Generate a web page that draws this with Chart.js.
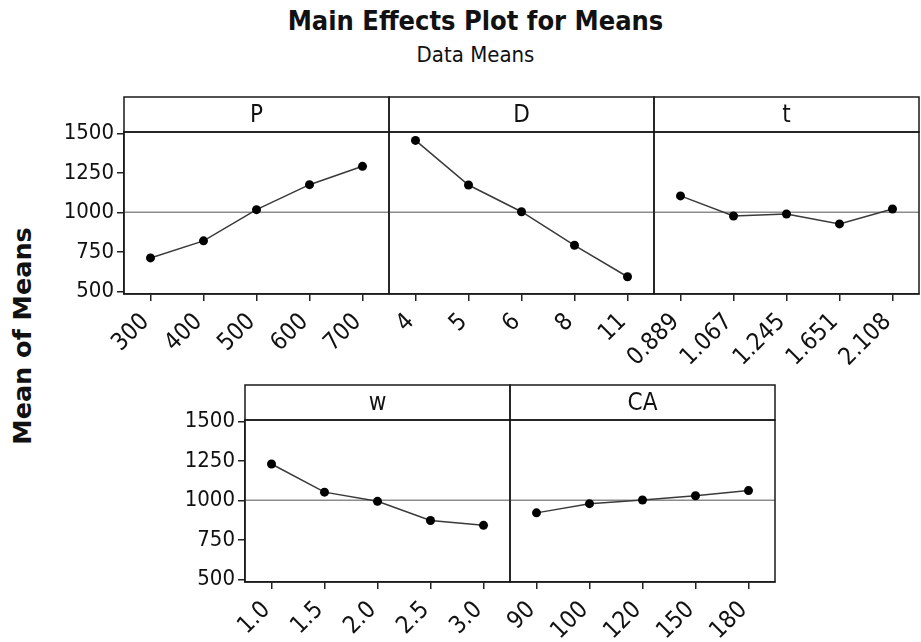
<!DOCTYPE html>
<html>
<head>
<meta charset="utf-8">
<title>Main Effects Plot for Means</title>
<script src="https://cdn.jsdelivr.net/npm/chart.js@4.4.0/dist/chart.umd.min.js"></script>
<style>
  body { margin: 0; background: #fff; }
  #page { position: relative; width: 921px; height: 642px; overflow: hidden;
          font-family: 'DejaVu Sans Condensed', 'DejaVu Sans', sans-serif; color: #111; }
  #page canvas { position: absolute; }
  #title { position: absolute; left: 0; width: 951px; top: 5px; text-align: center;
           font-weight: bold; font-size: 27px; }
  #subtitle { position: absolute; left: 0; width: 951px; top: 42px; text-align: center; font-size: 22px; }
  #ytitle { position: absolute; left: 23px; top: 336px; white-space: nowrap;
            transform: translate(-50%, -50%) rotate(-90deg) scaleX(1.18); font-weight: bold; font-size: 24px; }
</style>
</head>
<body>
<div id="page">
  <div id="title">Main Effects Plot for Means</div>
  <div id="subtitle">Data Means</div>
  <div id="ytitle">Mean of Means</div>
  <canvas id="cP"></canvas>
  <canvas id="cD"></canvas>
  <canvas id="ct"></canvas>
  <canvas id="cw"></canvas>
  <canvas id="cCA"></canvas>
</div>
<script>
// factor levels (x categories) and mean response at each level
const pLevels = ['300', '400', '500', '600', '700'];
const pMeans = [712, 820, 1017, 1175, 1291];

const dLevels = ['4', '5', '6', '8', '11'];
const dMeans = [1455, 1173, 1004, 792, 593];

const tLevels = ['0.889', '1.067', '1.245', '1.651', '2.108'];
const tMeans = [1104, 977, 990, 927, 1021];

const wLevels = ['1.0', '1.5', '2.0', '2.5', '3.0'];
const wMeans = [1230, 1052, 994, 873, 842];

const caLevels = ['90', '100', '120', '150', '180'];
const caMeans = [921, 979, 1002, 1029, 1062];

const meanTicks = [500, 750, 1000, 1250, 1500];
const grandMean = 1000;

// layout
const FONT = "'DejaVu Sans Condensed', 'DejaVu Sans', sans-serif";
const STRIP_H = 35, PLOT_W = 265, PLOT_H = 162;
const ML = 70, MT = 5, MR = 10, XAXIS_H = 75;

// reference line, panel frame and the header strip with the factor name
const stripPlugin = {
    id: 'strip',
    beforeDatasetsDraw(chart) {
        const { ctx, chartArea: a, scales: { y } } = chart;
        const yy = y.getPixelForValue(grandMean);
        ctx.save();
        ctx.strokeStyle = '#8c8c8c';
        ctx.lineWidth = 1.5;
        ctx.beginPath();
        ctx.moveTo(a.left, yy);
        ctx.lineTo(a.right, yy);
        ctx.stroke();
        ctx.restore();
    },
    afterDraw(chart, args, opts) {
        const { ctx, chartArea: a } = chart;
        ctx.save();
        ctx.strokeStyle = '#1a1a1a';
        ctx.lineWidth = 1.5;
        ctx.strokeRect(a.left, a.top, a.right - a.left, a.bottom - a.top);
        ctx.strokeRect(a.left, a.top - STRIP_H, a.right - a.left, STRIP_H);
        ctx.fillStyle = '#111';
        ctx.font = '24px ' + FONT;
        ctx.textAlign = 'center';
        ctx.textBaseline = 'middle';
        ctx.fillText(opts.label, (a.left + a.right) / 2, a.top - STRIP_H / 2 + 1);
        ctx.restore();
    }
};

function makePanel(id, name, levels, means, left, top, showY) {
    var cv = document.getElementById(id);
    cv.width = ML + PLOT_W + MR;
    cv.height = MT + STRIP_H + PLOT_H + XAXIS_H;
    cv.style.left = (left - ML) + 'px';
    cv.style.top = (top - STRIP_H - MT) + 'px';

    return new Chart(cv.getContext('2d'), {
        type: 'line',
        data: {
            labels: levels,
            datasets: [{
                data: means,
                borderColor: '#3a3a3a',
                borderWidth: 1.5,
                pointRadius: 4.5,
                pointBackgroundColor: '#000',
                pointBorderWidth: 0,
                tension: 0
            }]
        },
        options: {
            responsive: false,
            animation: false,
            layout: { padding: { left: showY ? 0 : ML, top: STRIP_H + MT, right: MR, bottom: 0 } },
            plugins: {
                legend: { display: false },
                tooltip: { enabled: false },
                strip: { label: name }
            },
            scales: {
                x: {
                    type: 'category',
                    offset: true,
                    grid: { drawOnChartArea: false, drawTicks: true, tickLength: 7, color: '#222', lineWidth: 1.5, offset: false },
                    border: { display: true, color: '#222', width: 1.5 },
                    ticks: {
                        minRotation: 45, maxRotation: 45, autoSkip: false, padding: 7, labelOffset: -5,
                        color: '#111', font: { family: FONT, size: 24 }
                    },
                    afterFit: function(s) { s.height = XAXIS_H; }
                },
                y: {
                    display: showY,
                    min: 484,
                    max: 1508,
                    afterBuildTicks: function(s) { s.ticks = meanTicks.map(v => ({ value: v })); },
                    afterFit: function(s) { s.width = showY ? ML : 0; },
                    grid: { drawOnChartArea: false, drawTicks: true, tickLength: 7, color: '#222', lineWidth: 1.5 },
                    border: { display: true, color: '#222', width: 1.5 },
                    ticks: {
                        padding: 3, color: '#111', font: { family: FONT, size: 22 },
                        callback: function(v) { return String(v); }
                    }
                }
            }
        },
        plugins: [stripPlugin]
    });
}

makePanel('cP', 'P', pLevels, pMeans, 124, 132, true);
makePanel('cD', 'D', dLevels, dMeans, 389, 132, false);
makePanel('ct', 't', tLevels, tMeans, 654, 132, false);
makePanel('cw', 'w', wLevels, wMeans, 245, 420, true);
makePanel('cCA', 'CA', caLevels, caMeans, 510, 420, false);
</script>
</body>
</html>
